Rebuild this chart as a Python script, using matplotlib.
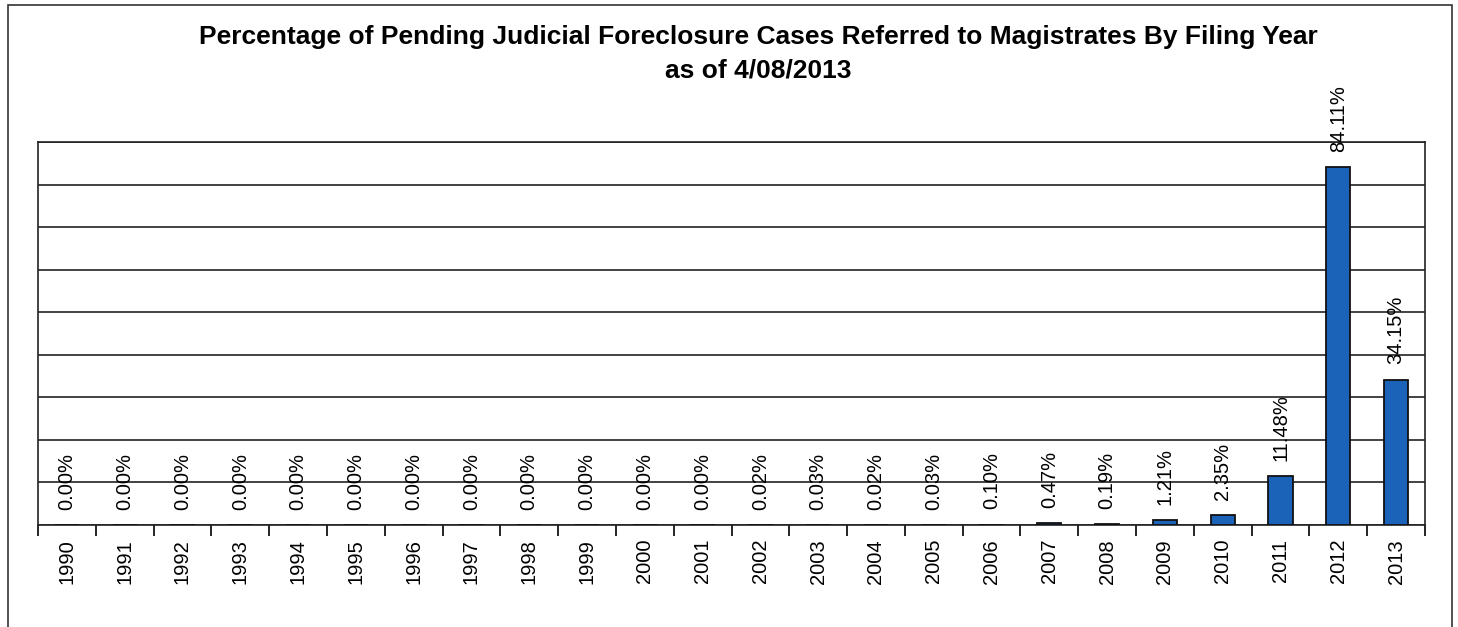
import matplotlib
matplotlib.use("Agg")
import matplotlib.pyplot as plt
from matplotlib.patches import Rectangle

plt.rcParams["font.family"] = ["Liberation Sans", "DejaVu Sans"]

years = [str(y) for y in range(1990, 2014)]
pct = [0.00, 0.00, 0.00, 0.00, 0.00, 0.00, 0.00, 0.00, 0.00, 0.00, 0.00, 0.00,
       0.02, 0.03, 0.02, 0.03, 0.10, 0.47, 0.19, 1.21, 2.35, 11.48, 84.11, 34.15]
labels = [f"{v:.2f}%" for v in pct]

fig = plt.figure(figsize=(14.58, 6.27), dpi=100)
fig.patches.append(Rectangle((8 / 1458, -0.1), 1444 / 1458, 1.1 - 5 / 627,
                             transform=fig.transFigure, fill=False,
                             edgecolor="#333333", linewidth=1.2))

ax = fig.add_axes([38 / 1458, 1 - 525 / 627, 1387 / 1458, 383 / 627])
x = list(range(len(years)))
bars = ax.bar(x, pct, width=0.42, color="#1b63b9", edgecolor="#111111",
              linewidth=1.3, zorder=3)
for xi, v, lab in zip(x, pct, labels):
    ax.annotate(lab, (xi, v), xytext=(0, 11), textcoords="offset points",
                rotation=90, ha="center", va="bottom", fontsize=14.5, zorder=4)

ax.set_xlim(-0.5, len(years) - 0.5)
ax.set_ylim(0, 90)
ax.set_yticks(range(0, 91, 10))
ax.yaxis.grid(True, color="#222222", linewidth=1.2, zorder=1)
ax.tick_params(axis="y", left=False, labelleft=False)

ax.set_xticks(x)
ax.set_xticklabels(years, rotation=90, fontsize=14.5)
ax.set_xticks([i - 0.5 for i in range(len(years) + 1)], minor=True)
ax.tick_params(axis="x", which="major", length=0, pad=10)
ax.tick_params(axis="x", which="minor", length=8, width=1.2, direction="out")
for s in ax.spines.values():
    s.set_linewidth(1.2)
    s.set_color("#222222")

fig.text(758 / 1458, 1 - 37 / 627,
         "Percentage of Pending Judicial Foreclosure Cases Referred to Magistrates By Filing Year",
         ha="center", va="center", fontsize=19, fontweight="bold")
fig.text(758 / 1458, 1 - 70 / 627, "as of 4/08/2013",
         ha="center", va="center", fontsize=19, fontweight="bold")

fig.savefig("out.png", dpi=100)
